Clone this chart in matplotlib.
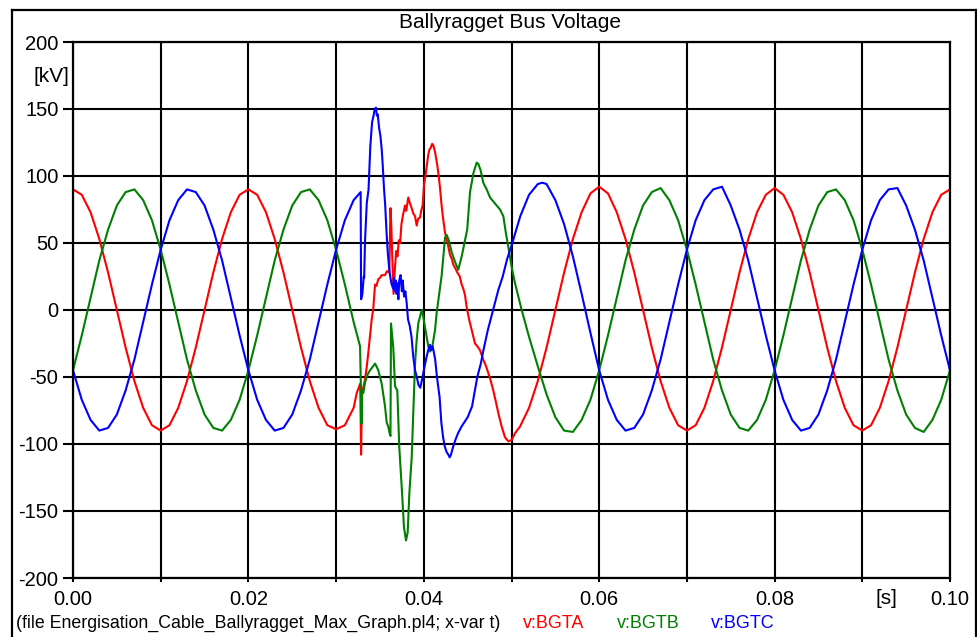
#!/usr/bin/env python
# -*- coding: utf-8 -*-

import numpy as np
import matplotlib
matplotlib.use("Agg")
from matplotlib import pyplot as plt
from matplotlib.lines import Line2D

plt.rcParams['font.family'] = ['Liberation Sans', 'DejaVu Sans']

# bus voltages in kV, sample times in ms
t_a = list(range(0, 33)) + [
    32.35, 32.75, 32.85, 32.95, 33.3, 33.5, 33.67, 33.86, 34.06, 34.24, 34.44,
    34.6, 34.81, 35.0, 35.2, 35.57, 35.8, 36.07, 36.2, 36.3, 36.4, 36.55, 36.7,
    36.85, 37.0, 37.15, 37.3, 37.45, 37.6, 37.86, 38.0, 38.23, 38.4, 38.62,
    38.8, 39.0, 39.19, 39.35, 39.57, 39.7, 39.87, 40.02, 40.25, 40.51, 40.65,
    40.79, 40.95, 41.08, 41.28, 41.54, 41.7, 41.85, 42.0, 42.15, 42.41, 42.68,
    42.99, 43.2, 43.36, 43.6, 43.82, 44.1, 44.32, 44.5, 44.7, 44.89, 45.2,
    45.46, 45.84, 46.1, 46.41, 46.78, 47.1, 47.35, 47.6, 47.92, 48.2, 48.5,
    48.88, 49.26, 49.64, 50.02, 50.4, 50.97] + list(range(52, 101))
v_a = [
    90, 86, 73, 53, 28, 0, -28, -53, -73, -86, -90, -86, -73, -53, -28, 0,
    28, 53, 73, 86, 90, 86, 73, 53, 28, 0, -28, -53, -73, -86, -89, -86, -73,
    -62, -55, -108, -62, -52, -42, -32, -20, -7, 1, 19,
    18, 23, 24, 26, 26, 29, 28, 76, 62, 40, 12, 30,
    44, 40, 52, 50, 64, 70, 78, 74, 84, 80, 76,
    72, 70, 63, 68, 69, 74, 78, 93, 103, 116, 120,
    121, 124, 123, 118, 108, 100, 91, 80, 71, 58, 51,
    41, 38, 34, 31, 28, 25, 19, 16, 11, 2, -8,
    -15, -25, -27, -30, -37, -42, -47, -52, -60, -68, -77,
    -87, -95, -98, -97, -92, -87,
    -73, -53, -28, 0, 28, 53, 73, 87, 92, 87, 73, 53, 28, 0, -28, -53, -73,
    -86, -90, -86, -73, -53, -28, 0, 28, 53, 73, 86, 91, 86, 73, 53, 28, 0,
    -28, -53, -73, -86, -90, -86, -73, -53, -28, 0, 28, 53, 73, 86, 90]

t_b = list(range(0, 33)) + [
    32.73, 32.82, 32.9, 32.97, 33.1, 33.3, 33.6, 33.87, 34.1, 34.44, 34.6,
    34.81, 35.0, 35.2, 35.4, 35.58, 35.77, 35.95, 36.1, 36.2, 36.26, 36.4,
    36.52, 36.72, 36.98, 37.2, 37.48, 37.74, 37.97, 38.16, 38.35, 38.62, 38.8,
    39.0, 39.19, 39.37, 39.57, 39.76, 39.94, 40.14, 40.33, 40.51, 40.71,
    40.95, 41.28, 41.47, 41.65, 42.04, 42.42, 42.61, 42.85, 43.18, 43.56,
    43.93, 44.32, 44.7, 44.95, 45.27, 45.65, 46.03, 46.22, 46.49, 46.78,
    47.17, 47.55, 47.92, 48.31, 48.69, 49.07, 49.37, 49.64, 50.02, 50.4,
    50.78, 51.16] + list(range(52, 101))
v_b = [
    -45, -19, 9, 37, 60, 78, 88, 90, 82, 67, 45, 19, -9, -37, -60, -78, -88,
    -90, -82, -67, -45, -19, 9, 37, 60, 78, 88, 90, 82, 67, 45, 19, -9,
    -27, -55, -85, -60, -62, -54, -48, -45, -43, -40, -42,
    -45, -50, -55, -64, -72, -84, -87, -92, -94, -10, -20,
    -28, -57, -60, -102, -132, -162, -172, -166, -137, -110, -77,
    -40, -22, -10, -5, 0, -5, -13, -20, -27, -31,
    -28, -15, -2, 7, 26, 54, 56, 52, 43, 36,
    30, 40, 52, 60, 88, 102, 110, 109, 104, 95,
    90, 84, 81, 78, 75, 70, 57, 47, 32, 20,
    10, 0,
    -20, -42, -63, -80, -90, -91, -82, -67, -45, -19, 9, 37, 60, 78, 88, 91,
    82, 67, 45, 19, -9, -37, -60, -78, -88, -90, -82, -67, -45, -19, 9, 37,
    60, 78, 88, 90, 82, 67, 45, 19, -9, -37, -60, -78, -88, -91, -82, -67, -45]

t_c = list(range(0, 33)) + [
    32.8, 32.85, 33.0, 33.15, 33.2, 33.3, 33.5, 33.7, 33.9, 34.1, 34.3, 34.4,
    34.55, 34.65, 34.75, 34.9, 35.05, 35.2, 35.3, 35.45, 35.6, 35.75, 35.9,
    36.1, 36.3, 36.5, 36.6, 36.7, 36.8, 36.9, 37.0, 37.1, 37.2, 37.35, 37.5,
    37.6, 37.75, 37.9, 38.05, 38.2, 38.4, 38.6, 38.8, 39.0, 39.2, 39.4, 39.6,
    39.8, 40.0, 40.25, 40.5, 40.7, 40.85, 41.0, 41.1, 41.3, 41.5, 41.8, 42.0,
    42.2, 42.4, 42.6, 42.8, 42.95, 43.1, 43.3, 43.6, 43.9, 44.3, 44.7, 45.0,
    45.5, 46.1, 46.5, 46.8, 47.3, 47.9, 48.5, 49.0, 49.5, 50.0, 51.0, 52.0,
    53.0, 53.5, 54.0, 55.0, 56.0, 57.0, 58.0, 59.0] + list(range(60, 101))
v_c = [
    -45, -67, -82, -90, -88, -78, -60, -37, -9, 19, 45, 67, 82, 90, 88, 78,
    60, 37, 9, -19, -45, -67, -82, -90, -88, -78, -60, -37, -9, 19, 45, 67, 82,
    88, 8, 12, 25, 24, 52, 80, 90, 122, 140, 146, 150,
    151, 145, 146, 136, 130, 120, 110, 92, 78, 58, 42,
    28, 20, 16, 24, 14, 22, 12, 20, 8, 22, 26, 14,
    22, 10, 14, 5, -7, -12, -20, -35, -45, -50, -56, -58,
    -52, -45, -37, -30, -26, -30, -27, -30, -37, -50, -65, -84,
    -95, -102, -106, -108, -110, -108, -103, -97, -92, -87, -83, -80,
    -72, -50, -40, -30, -15, 0, 15, 25, 38, 48, 70, 86,
    94, 95, 94, 82, 64, 40, 12, -17,
    -45, -67, -82, -90, -88, -78, -60, -37, -9, 19, 45, 67, 82, 90, 92, 78,
    60, 37, 9, -19, -45, -67, -82, -90, -88, -78, -60, -37, -9, 19, 45, 67,
    82, 90, 91, 78, 60, 37, 9, -19, -45]

y_ticks = [-200, -150, -100, -50, 0, 50, 100, 150, 200]
x_ticks = [0.00, 0.01, 0.02, 0.03, 0.04, 0.05, 0.06, 0.07, 0.08, 0.09, 0.10]
x_labels = ['0.00', '', '0.02', '', '0.04', '', '0.06', '', '0.08', '', '0.10']

series = [('v:BGTA', t_a, v_a, '#ff0000'),
          ('v:BGTB', t_b, v_b, '#008000'),
          ('v:BGTC', t_c, v_c, '#0000ff')]


def plot_voltage(prefix):

    W, H = 977.0, 637.0
    fig = plt.figure(figsize=(W / 100, H / 100), dpi=100)

    ax = fig.add_axes([73 / W, 1 - 578 / H, 877 / W, 536 / H])
    for name, t, v, c in series:
        ax.plot(np.array(t) / 1000.0, v, color=c, lw=1.5)

    ax.set_xlim(0, 0.1)
    ax.set_ylim(-200, 200)
    ax.set_yticks(y_ticks)
    ax.set_yticklabels([str(y) for y in y_ticks])
    ax.set_xticks(x_ticks)
    ax.set_xticklabels(x_labels)
    ax.grid(True, color='black', lw=1.5)
    for s in ax.spines.values():
        s.set_linewidth(1.6)
    ax.tick_params(axis='y', length=7.5, width=1.5, pad=3, labelsize=14.5)
    ax.tick_params(axis='x', length=3, width=1.5, pad=5.5, labelsize=14.5)

    # outer frame
    lw = 1.6
    fig.add_artist(Line2D([12 / W, 12 / W], [0, 1 - 10 / H], color='black', lw=lw))
    fig.add_artist(Line2D([12 / W, 976 / W], [1 - 10 / H, 1 - 10 / H], color='black', lw=lw))
    fig.add_artist(Line2D([976 / W, 976 / W], [0, 1 - 10 / H], color='black', lw=lw))

    fig.text(510 / W, 1 - 22 / H, 'Ballyragget Bus Voltage', ha='center', va='center', fontsize=15)
    fig.text(51 / W, 1 - 76 / H, '[kV]', ha='center', va='center', fontsize=15)
    fig.text(886 / W, 1 - 599 / H, '[s]', ha='center', va='center', fontsize=15)

    fig.text(16 / W, 1 - 623 / H, '(file Energisation_Cable_Ballyragget_Max_Graph.pl4; x-var t)',
             ha='left', va='center', fontsize=12.8)
    for (name, t, v, c), x in zip(series, [523, 617, 711]):
        fig.text(x / W, 1 - 623 / H, name, color=c, ha='left', va='center', fontsize=13)

    fig.savefig('%s.png' % prefix, dpi=100)


if __name__ == "__main__":

    plot_voltage('out')
